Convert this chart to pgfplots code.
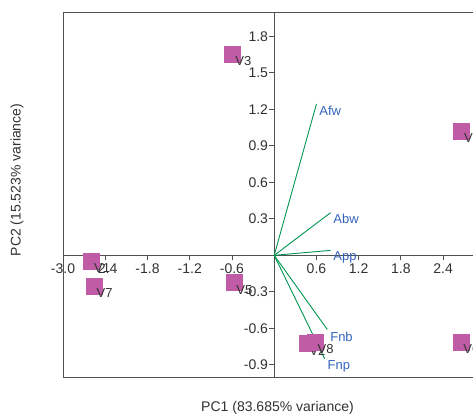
\documentclass[border=0pt]{standalone}
\usepackage{fontspec}
\setmainfont{Liberation Sans}
\usepackage{pgfplots}
\pgfplotsset{compat=1.18}
\definecolor{ptcol}{RGB}{192,92,166}
\definecolor{veccol}{RGB}{0,150,80}
\definecolor{labcol}{RGB}{50,100,190}
\definecolor{txtcol}{RGB}{50,50,50}
\definecolor{axcol}{RGB}{80,80,80}
\begin{document}
\begin{tikzpicture}[x=1bp,y=1bp]
\useasboundingbox (0,0) rectangle (473,415);
\clip (0,0) rectangle (473,415);
\begin{axis}[
  at={(63bp,38bp)}, anchor=south west,
  scale only axis, width=422.4bp, height=365bp,
  xmin=-3, xmax=3, ymin=-1, ymax=2,
  axis lines=middle,
  axis line style={axcol, -, line width=0.9bp},
  xtick={-3,-2.4,-1.8,-1.2,-0.6,0.6,1.2,1.8,2.4},
  ytick={-0.9,-0.6,-0.3,0.3,0.6,0.9,1.2,1.5,1.8},
  tick align=outside, major tick length=5bp,
  tick style={axcol, line width=0.9bp},
  /pgf/number format/assume math mode=true,
  /pgf/number format/fixed, /pgf/number format/fixed zerofill,
  /pgf/number format/precision=1,
  ticklabel style={font=\fontsize{14bp}{16bp}\selectfont, text=txtcol},
  yticklabel style={inner sep=1bp},
]
\addplot[only marks, mark=square*, mark size=8bp,
  mark options={draw=ptcol, fill=ptcol},
  nodes near coords, point meta=explicit symbolic,
  every node near coord/.style={anchor=west, xshift=1.5bp, yshift=-7bp,
    inner sep=1bp, text=txtcol, font=\fontsize{13bp}{15bp}\selectfont}]
  table[meta=label] {
x y label
-2.595 -0.045 V1
0.463 -0.725 V2
-0.59 1.657 V3
2.66 1.022 V4
-0.575 -0.224 V5
2.65 -0.71 V6
-2.56 -0.256 V7
0.58 -0.715 V8
};
\pgfplotsset{every node/.append style={}}
\addplot[veccol, line width=0.9bp] coordinates {(0,0) (0.60,1.244)}
  node[pos=1, anchor=west, xshift=1.5bp, yshift=-7bp, inner sep=1bp, text=labcol, font=\fontsize{13bp}{15bp}\selectfont] {Afw};
\addplot[veccol, line width=0.9bp] coordinates {(0,0) (0.80,0.35)}
  node[pos=1, anchor=west, xshift=1.5bp, yshift=-6bp, inner sep=1bp, text=labcol, font=\fontsize{13bp}{15bp}\selectfont] {Abw};
\addplot[veccol, line width=0.9bp] coordinates {(0,0) (0.80,0.041)}
  node[pos=1, anchor=west, xshift=1.5bp, yshift=-7bp, inner sep=1bp, text=labcol, font=\fontsize{13bp}{15bp}\selectfont] {App};
\addplot[veccol, line width=0.9bp] coordinates {(0,0) (0.755,-0.61)}
  node[pos=1, anchor=west, xshift=1.5bp, yshift=-7bp, inner sep=1bp, text=labcol, font=\fontsize{13bp}{15bp}\selectfont] {Fnb};
\addplot[veccol, line width=0.9bp] coordinates {(0,0) (0.717,-0.851)}
  node[pos=1, anchor=west, xshift=1.5bp, yshift=-7bp, inner sep=1bp, text=labcol, font=\fontsize{13bp}{15bp}\selectfont] {Fnp};
\draw[axcol, line width=0.9bp] (rel axis cs:0,0) rectangle (rel axis cs:1,1);
\end{axis}
\node[rotate=90, text=txtcol, font=\fontsize{14bp}{16bp}\selectfont] at (17,235) {PC2 (15.523\% variance)};
\node[text=txtcol, font=\fontsize{14bp}{16bp}\selectfont] at (277.5,7) {PC1 (83.685\% variance)};
\end{tikzpicture}
\end{document}
